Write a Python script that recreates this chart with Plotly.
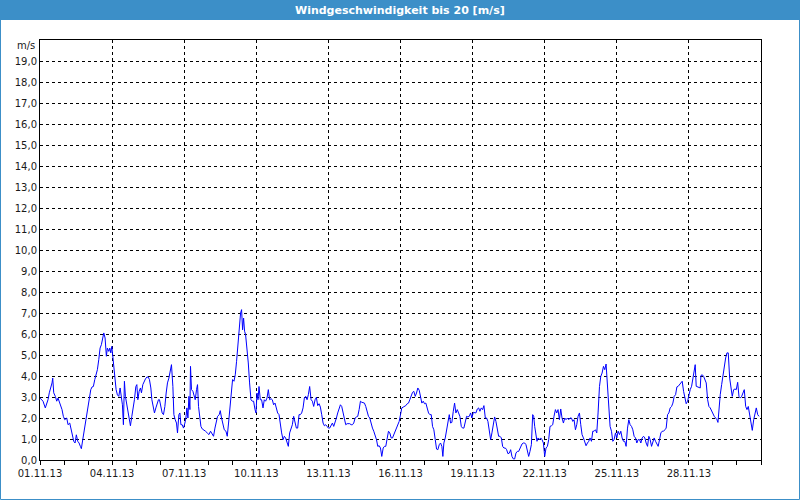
import pandas as pd
import plotly.graph_objects as go

# hours since 01.11.2013 00:00
hours = [
    0, 3, 5.3, 6.7, 8, 9.3, 10.7, 12, 12.7, 13.7, 15.3, 16.7, 18, 19.3, 20.7, 22, 23.3, 24.7, 26.7, 28,
    29.7, 31, 32.3, 33.7, 35, 36.3, 37.7, 39, 40.3, 41.3, 42.7, 44, 45.3, 46.7, 48, 49.3, 50.7, 52, 53.3, 54.7,
    56, 57.3, 58.7, 60, 61.3, 62.7, 63.7, 65, 66.3, 67.3, 68.7, 69.7, 70.7, 71.7, 72.7, 73.7, 74.7, 76, 77.3, 78.7,
    80, 81, 82.3, 83.3, 84.3, 85.3, 86.7, 88, 89.3, 90.3, 91.7, 93, 94.3, 95.7, 96.7, 97.7, 99, 100.3, 101.3, 102.7,
    104, 105.3, 106.7, 108, 109.3, 110.7, 111.7, 113, 114.3, 115.7, 117, 118.3,
    119.3, 120.7, 122, 123.3, 124.7, 126, 127.3, 128.7, 130, 131.3, 132.7, 133.7, 135, 136.3, 137.3, 138.7, 139.7,
    140.7, 142, 143.3, 144.7, 145.7, 146.7, 147.7, 148.7, 149.7, 150.3, 151.3, 152.7, 154, 155, 156.3, 157.3, 158.3,
    159.7, 160.7, 162, 163.7, 165.3, 167, 168.7, 170.3, 172, 173.3, 174.7, 176, 177.3, 179, 180, 181.3, 182.7, 184,
    185.7, 187, 188.3, 189.7, 191, 192.3, 193.7, 195, 196.3, 197.7, 199, 200.3, 201.3, 202.3, 203.3, 204.3, 205.3,
    206.7, 208, 209.3, 210.7, 212, 213.3, 214.7, 215.7, 216.7, 217.7, 218.7, 220, 221.3, 222.7, 224, 225.3, 226.7,
    228, 229.3, 230.7, 232, 233.3, 234.7, 236, 237.3,
    238.7, 240, 241.3, 242.7, 244, 245.3, 246.7, 248, 249.3, 250.7, 252, 253.3, 254.7, 256, 257.3, 258.7, 260, 261.3,
    262.7, 264, 265.3, 266.7, 268, 269.3, 270.7, 272, 273.3, 274.7, 276, 277.3, 278.7, 280, 281.3, 282.7, 284, 285.3,
    286.7, 288, 289.3, 290.7, 292, 293.3, 294.7, 296, 297.3, 298.7, 300, 301.3, 302.7, 304, 305.3, 306.7, 308, 309.3,
    310.7, 312, 313.3, 314.7, 316, 317.3, 318.7, 320, 321.3, 322.7, 324, 325.3, 326.7, 328, 329.3, 330.7, 332, 333.3,
    334.7, 336, 337.3, 338.7, 340, 341.3, 342.7, 344, 345.3, 346.7, 348, 349.3, 350.7, 352, 353.3, 354.7, 356, 357.3,
    358.7, 360, 361.3, 362.7, 364, 365.3, 366.7, 368, 369.3, 370.7, 372, 373.3, 374.7, 376, 377.3, 378.7, 380, 381.3,
    382.7, 384, 385.3, 386.7, 388, 389.3, 390.7, 392, 393.3, 394.7, 396, 397.3, 398.7, 400, 401.3, 402.3, 403.3, 404.7,
    406, 407.3, 408.7, 410, 411.3, 412.7, 414, 415.3, 416.7, 418, 419.3, 420.7, 422, 423.3, 424.7, 426, 427.3, 428.7,
    430, 431.3, 432.7, 434, 435.3, 436.7, 438, 439.3, 440.7, 442, 443.3, 444.7, 446, 447.3, 448.7, 450, 451.3, 452.7,
    454, 455.3, 456.7, 458, 459.3, 460.7, 462, 463.3, 464.7, 466, 467.3, 468.7, 470, 471.3, 472.7, 474, 475.3, 476.7,
    478,
    478.7, 480, 481.3, 482.7, 484, 485.3, 486.7, 488, 489.3, 490.7, 492, 493, 494, 495.3, 496.3, 497.3, 498.7, 500,
    501.3, 502.7, 504, 505.3, 506.7, 508, 509.3, 510.7, 512, 513.3, 514.7, 516, 517.3, 518.7, 520, 521.3, 522.7, 524,
    525.3, 526.7, 528, 529.3, 530.7, 532, 533.3, 534.7, 536, 537.3, 538.7, 540, 541.3, 542.7, 544, 545.3, 546.7, 548,
    549.3, 550.7, 552, 553.3, 554.7, 556, 557.3, 558.7, 560, 561.3, 562.7, 564, 565.3, 566.7, 568, 569.3, 570.7, 572,
    573.3, 574.7, 576, 577.3, 578.7, 580, 581.3, 582.7, 584, 585.3, 586.7, 588, 589.3, 590.7, 592, 593.3, 594.7, 596,
    597.3,
    598.7, 600, 601.3, 602.7, 604, 605.3, 606.7, 608, 609.3, 610.7, 612, 613.3, 614.7, 616, 617.3, 618.7, 620, 621.3,
    622.7, 624, 625.3, 626.7, 628, 629.3, 630.7, 632, 633.3, 634.7, 636, 637.3, 638.7, 640, 641.3, 642.7, 644, 645.3,
    646.7, 648, 649.3, 650.7, 652, 653.3, 654.3, 655.3, 656.7, 658, 659.3, 660, 661.3, 662.7, 664, 665.3, 666.7, 668,
    669.3, 670.7, 672, 673.3, 674.7, 676, 677, 678, 679.3, 680.7, 682, 683.3, 684.7, 686, 687.3, 688.7, 690, 691.3,
    692.7, 694, 695.3, 696.7, 698, 699.3, 700.7, 702, 703.3, 704.7, 706, 707.3, 708.7, 710, 711.3, 712.7, 714, 715.3,
    716.7, 718,
]

speed = [
    2.95, 2.8, 2.48, 2.65, 2.87, 3.2, 3.43, 3.67, 3.9, 3.2, 3.03, 2.8, 2.95, 2.8, 2.63, 2.4, 2.08, 1.92, 2.0, 1.68,
    1.76, 1.44, 1.05, 0.89, 0.81, 1.2, 0.89, 0.81, 0.65, 0.54, 0.97, 1.37, 1.76, 2.08, 2.4, 2.95, 3.35, 3.48, 3.5, 3.83,
    4.06, 4.3, 4.78, 5.33, 5.49, 5.81, 6.05, 5.81, 4.94, 5.33, 5.17, 5.33, 5.1, 5.41, 4.86, 4.46, 3.83, 3.35, 3.1, 3.03,
    3.43, 3.03, 2.63, 1.68, 3.75, 3.03, 2.63, 2.24, 1.76, 1.63, 2.08, 2.4, 2.87, 3.5, 3.59, 2.87, 3.27, 3.43, 3.2, 3.59,
    3.75, 3.86, 3.95, 3.95, 3.83, 3.43, 2.87, 2.48, 2.24, 2.48, 2.63, 2.87,
    2.87, 2.55, 2.24, 2.16, 2.55, 3.19, 3.67, 3.9, 4.3, 4.54, 3.5, 2.16, 1.92, 1.76, 1.29, 2.16, 2.24,
    1.68, 1.68, 1.52, 1.76, 2.0, 2.48, 2.0, 3.03, 2.4, 4.46, 3.35, 3.27, 3.03, 2.87, 3.35, 3.59, 2.55,
    2.08, 1.6, 1.48, 1.44, 1.37, 1.29, 1.21, 1.37, 1.21, 1.13, 1.52, 1.84, 2.08, 2.16, 2.35, 2.0, 1.76, 1.44,
    1.37, 1.13, 1.76, 2.55, 3.11, 3.83, 3.75, 4.06, 4.7, 5.65, 6.44, 7.0, 7.16, 6.2, 6.76, 6.13, 5.97,
    5.41, 4.62, 3.67, 2.87, 2.8, 2.8, 2.4, 2.24, 3.19, 2.87, 3.5, 2.87, 2.87, 2.48, 2.87, 2.8, 2.95,
    3.35, 2.87, 2.92, 2.87, 2.63, 2.71, 2.48, 2.24,
    2.16, 1.68, 1.29, 0.97, 1.13, 1.05, 0.81, 0.65, 1.29, 1.52, 1.68, 2.08, 1.68, 1.52, 1.52, 2.16, 2.16, 2.24,
    2.48, 2.95, 3.03, 2.87, 3.11, 3.5, 2.87, 2.8, 2.55, 2.87, 2.98, 2.59, 2.68, 2.52, 2.16, 1.76, 1.63, 1.68,
    1.6, 1.52, 1.52, 1.68, 1.76, 1.6, 1.76, 2.0, 2.24, 2.48, 2.63, 2.55, 2.24, 1.92, 1.68, 1.73, 1.73, 1.73,
    1.68, 1.68, 1.76, 2.0, 2.05, 2.08, 2.4, 2.8, 2.75, 2.71, 2.71, 2.55, 2.32, 2.08, 2.0, 1.68, 1.52, 1.37,
    1.21, 0.97, 0.65, 0.68, 0.57, 0.17, 0.57, 0.65, 0.65, 1.13, 1.37, 1.29, 1.05, 1.05, 1.21, 1.37, 1.52, 1.68,
    1.84, 2.16, 2.48, 2.52, 2.55, 2.59, 2.68, 2.71, 2.87, 3.11, 3.22, 3.27, 3.03, 3.19, 3.43, 3.32, 3.03, 2.71,
    2.8, 2.68, 2.71, 2.48, 2.24, 2.16, 2.16, 1.6, 1.44, 0.97, 0.52, 0.49, 0.73, 0.81, 0.65, 0.17, 0.81, 1.05,
    1.37, 1.84, 2.16, 1.76, 1.79, 2.32, 2.71, 2.24, 2.4, 2.24, 2.08, 1.6, 1.52, 1.52, 1.92, 2.08, 2.05, 2.08,
    2.24, 2.0, 2.27, 2.27, 2.24, 2.43, 2.48, 2.32, 2.48, 2.4, 2.59, 2.0, 2.0, 1.84, 1.44, 0.97, 1.29, 1.68,
    2.05, 1.84, 1.52, 1.13, 1.13, 1.05, 0.65, 0.57, 0.57, 0.49, 0.3, 0.33, 0.49, 0.17, 0.05, 0.05, 0.33, 0.41,
    0.41,
    0.49, 0.65, 0.76, 0.81, 0.81, 0.73, 0.33, 0.17, 0.41, 0.73, 2.16, 2.08, 1.6, 1.13, 0.89, 1.05, 0.97, 1.05,
    0.97, 0.81, 0.17, 0.57, 0.65, 0.97, 1.6, 1.63, 1.68, 2.08, 2.4, 2.24, 2.4, 1.92, 2.43, 2.0, 1.76, 2.0,
    1.92, 2.0, 1.92, 2.0, 2.0, 1.84, 1.92, 1.44, 1.68, 2.08, 2.24, 1.68, 1.21, 1.05, 0.89, 0.68, 0.81, 0.89,
    1.05, 0.89, 1.37, 1.37, 1.44, 1.29, 2.24, 3.5, 3.98, 4.14, 4.46, 4.3, 4.57, 3.5, 2.24, 1.6, 1.37, 0.89,
    0.97, 1.29, 1.05, 1.37, 1.21, 1.37, 1.05, 0.89, 0.89, 0.65, 1.52, 1.92, 1.68, 1.6, 1.44, 1.13, 1.05, 0.81,
    0.97,
    0.97, 0.81, 1.05, 1.13, 1.05, 0.81, 0.65, 1.13, 0.97, 0.65, 0.89, 1.05, 0.89, 0.73, 0.65, 0.97, 1.29, 1.37,
    1.37, 1.44, 1.52, 2.16, 2.24, 2.48, 2.55, 2.71, 3.03, 3.11, 3.48, 3.51, 3.59, 3.67, 3.75, 3.27, 2.95, 2.68,
    2.8, 3.11, 3.35, 3.51, 3.83, 4.14, 4.54, 3.51, 3.48, 3.48, 3.43, 4.02, 4.06, 3.98, 3.83, 3.67, 2.87, 2.55,
    2.48, 2.32, 2.16, 2.08, 2.0, 1.92, 1.79, 2.4, 3.11, 3.59, 4.06, 4.46, 4.86, 5.1, 5.1, 3.9, 3.43, 3.03,
    3.35, 3.38, 3.35, 3.7, 3.03, 2.95, 3.03, 3.19, 3.35, 2.55, 2.4, 2.55, 2.16, 1.84, 1.41, 1.92, 2.24, 2.48,
    2.16, 2.08,
]

y_ticks = list(range(0, 20))
y_labels = [f"{v},0" for v in y_ticks]
x_tick_dates = ["2013-11-%02d" % d for d in range(1, 30, 3)]
title_text = "Windgeschwindigkeit bis 20 [m/s]"
unit_text = "m/s"

times = pd.Timestamp("2013-11-01") + pd.to_timedelta(hours, unit="h")

BLUE = "#3c8fc8"
FONT = "DejaVu Sans"
TXT = "#1a1a1a"

fig = go.Figure()
fig.add_trace(go.Scatter(x=times, y=speed, mode="lines",
                         line=dict(color="#0000ff", width=1), showlegend=False,
                         hoverinfo="skip"))

L, R, T, B = 40, 39, 40, 40
W, H = 800, 500
pw, ph = W - L - R, H - T - B

def px2x(p):
    return (p - L) / pw

def py2y(p):
    return (H - B - p) / ph

fig.update_layout(
    width=W, height=H,
    margin=dict(l=L, r=R, t=T, b=B, autoexpand=False),
    paper_bgcolor="white", plot_bgcolor="white",
    font=dict(family=FONT, size=10, color=TXT),
    shapes=[
        dict(type="rect", xref="paper", yref="paper",
             x0=px2x(0), x1=px2x(800), y0=py2y(20), y1=py2y(0),
             fillcolor=BLUE, line=dict(width=0)),
        dict(type="rect", xref="paper", yref="paper",
             x0=px2x(0.5), x1=px2x(799.5), y0=py2y(499.5), y1=py2y(0.5),
             fillcolor="rgba(0,0,0,0)", line=dict(color=BLUE, width=1)),
    ],
    annotations=[
        dict(text=f"<b>{title_text}</b>", xref="paper", yref="paper",
             x=px2x(400), y=py2y(10), xanchor="center", yanchor="middle",
             showarrow=False, font=dict(family=FONT, size=11, color="white")),
        dict(text=unit_text, xref="paper", yref="paper",
             x=px2x(37), y=py2y(46), xanchor="right", yanchor="middle",
             showarrow=False, font=dict(family=FONT, size=10, color=TXT)),
    ],
)

fig.update_xaxes(
    type="date", automargin=False,
    range=[pd.Timestamp("2013-11-01"), pd.Timestamp("2013-12-01")],
    tickvals=x_tick_dates,
    tickformat="%d.%m.%y",
    ticks="outside", ticklen=4, tickcolor="black", tickwidth=1,
    showgrid=True, gridcolor="black", gridwidth=1, griddash="3px,3px",
    minor=dict(dtick=86400000, tick0="2013-11-01", ticks="outside", ticklen=4,
               tickcolor="black", showgrid=False),
    showline=True, linecolor="black", linewidth=1, mirror=True,
    zeroline=False,
)

fig.update_yaxes(
    range=[0, 20], automargin=False,
    tickvals=y_ticks, ticktext=y_labels,
    ticks="", showgrid=True, gridcolor="black", gridwidth=1, griddash="3px,3px",
    showline=True, linecolor="black", linewidth=1, mirror=True,
    zeroline=False,
)

fig.write_html("out.html",
               config={"displayModeBar": False},
               post_script="document.body.style.margin='0';document.body.style.overflow='hidden';")
